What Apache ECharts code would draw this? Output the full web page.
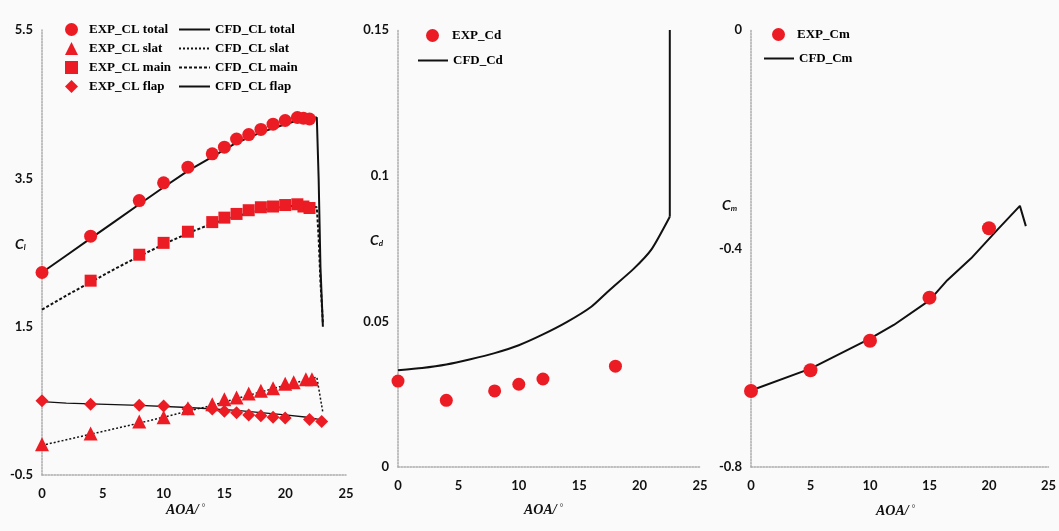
<!DOCTYPE html>
<html>
<head>
<meta charset="utf-8">
<script src="https://cdn.jsdelivr.net/npm/echarts@6/dist/echarts.min.js"></script>
<style>
  html, body { margin: 0; padding: 0; background: #fafafa; }
  #main { width: 1059px; height: 531px; }
</style>
</head>
<body>
<div id="main"></div>
<script>
// ---- CL panel: experiment ----
const aoaTotal = [0, 4, 8, 10, 12, 14, 15, 16, 17, 18, 19, 20, 21, 21.5, 22];
const expClTotal = [2.23, 2.72, 3.20, 3.44, 3.65, 3.83, 3.92, 4.03, 4.09, 4.16, 4.23, 4.28, 4.32, 4.31, 4.30];
const aoaSlat = [0, 4, 8, 10, 12, 14, 15, 16, 17, 18, 19, 20, 20.7, 21.7, 22.2];
const expClSlat = [-0.085, 0.06, 0.22, 0.28, 0.40, 0.455, 0.52, 0.545, 0.60, 0.635, 0.67, 0.73, 0.75, 0.79, 0.79];
const aoaMain = [4, 8, 10, 12, 14, 15, 16, 17, 18, 19, 20, 21, 21.5, 22];
const expClMain = [2.12, 2.47, 2.63, 2.78, 2.91, 2.97, 3.02, 3.07, 3.11, 3.12, 3.14, 3.15, 3.12, 3.10];
const aoaFlap = [0, 4, 8, 10, 12, 14, 15, 16, 17, 18, 19, 20, 22, 23];
const expClFlap = [0.50, 0.455, 0.44, 0.43, 0.39, 0.39, 0.36, 0.34, 0.31, 0.30, 0.28, 0.27, 0.25, 0.22];

// ---- CL panel: CFD ----
const cfdAoaTotal = [0, 2, 4, 6, 8, 10, 12, 14, 16, 18, 20, 21, 22, 22.6, 22.75, 22.9, 23.1];
const cfdClTotal = [2.23, 2.46, 2.69, 2.92, 3.15, 3.38, 3.60, 3.79, 3.98, 4.12, 4.23, 4.28, 4.31, 4.32, 3.5, 2.3, 1.5];
const cfdClMain = [1.73, 1.92, 2.10, 2.28, 2.45, 2.61, 2.76, 2.89, 2.99, 3.07, 3.12, 3.13, 3.13, 3.11, 2.7, 2.1, 1.55];
const cfdAoaSlat = [0, 4, 8, 12, 14, 16, 18, 20, 22, 22.6, 23.1];
const cfdClSlat = [-0.10, 0.05, 0.20, 0.36, 0.44, 0.53, 0.62, 0.71, 0.79, 0.82, 0.34];
const cfdAoaFlap = [0, 2, 4, 8, 12, 16, 18, 20, 22, 23.1];
const cfdClFlap = [0.49, 0.47, 0.46, 0.44, 0.41, 0.37, 0.34, 0.31, 0.275, 0.24];

// ---- Cd panel ----
const aoaCd = [0, 4, 8, 10, 12, 18];
const expCd = [0.0295, 0.0229, 0.0261, 0.0284, 0.0302, 0.0346];
const cfdAoaCd = [0, 2, 4, 6, 8, 10, 12, 14, 16, 17.5, 19.5, 21, 22.5];
const cfdCd = [0.0332, 0.0340, 0.0352, 0.0370, 0.0391, 0.0418, 0.0455, 0.0498, 0.0550, 0.0607, 0.0680, 0.0748, 0.0859];
const cfdAoaCdStall = [22.5, 22.5];
const cfdCdStall = [0.0859, 0.15];

// ---- Cm panel ----
const aoaCm = [0, 5, 10, 15, 20];
const expCm = [-0.661, -0.623, -0.569, -0.49, -0.363];
const cfdAoaCm = [0, 5, 10, 12, 15, 16.5, 18.5, 20.7, 22.6, 23.1];
const cfdCm = [-0.66, -0.62, -0.565, -0.54, -0.495, -0.458, -0.418, -0.366, -0.322, -0.359];

const xTicks = [0, 5, 10, 15, 20, 25];

const RED = '#ec1c24';
const BLACK = '#111';
const tickFont = { fontFamily: 'Lato', fontWeight: 'bold', fontSize: 13, color: '#111' };
const legendFont = { fontFamily: 'Liberation Serif', fontWeight: 'bold', fontSize: 13, color: '#000' };

const pairs = (xs, ys) => xs.map((x, i) => [x, ys[i]]);

function xAx(gi) {
    return {
        type: 'value', gridIndex: gi, min: xTicks[0], max: xTicks[xTicks.length - 1], interval: 5,
        axisLine: { show: true, onZero: false, lineStyle: { color: '#aaa', type: 'dotted', width: 1.5 } },
        axisTick: { show: false },
        splitLine: { show: false },
        axisLabel: Object.assign({ margin: 12 }, tickFont)
    };
}
function yAx(gi, extra) {
    return Object.assign({
        type: 'value', gridIndex: gi,
        axisLine: { show: true, onZero: false, lineStyle: { color: '#aaa', type: 'dotted', width: 1.5 } },
        axisTick: { show: false },
        splitLine: { show: false },
        axisLabel: Object.assign({ margin: 9 }, tickFont)
    }, extra);
}

function expSeries(name, gi, data, symbol, size) {
    return {
        name, type: 'scatter', xAxisIndex: gi, yAxisIndex: gi, data,
        symbol, symbolSize: size, itemStyle: { color: RED, opacity: 1 }, z: 3
    };
}
function cfdSeries(name, gi, data, type, width, smooth) {
    return {
        name, type: 'line', xAxisIndex: gi, yAxisIndex: gi, data,
        symbol: 'none', smooth: smooth || false,
        lineStyle: { color: BLACK, type, width }, itemStyle: { color: BLACK }, z: 2
    };
}

function label(text, sub, x, y) {
    return {
        type: 'text', left: x, top: y,
        style: {
            text: '{c|' + text + '}{s|' + sub + '}',
            rich: {
                c: { fontFamily: 'Lato', fontStyle: 'italic', fontWeight: 'bold', fontSize: 14, fill: '#111' },
                s: { fontFamily: 'Lato', fontStyle: 'italic', fontWeight: 'bold', fontSize: 8, fill: '#111', padding: [6, 0, 0, 0] }
            }
        }
    };
}
function aoaLabel(cx, y) {
    return {
        type: 'text', left: cx - 21, top: y,
        style: {
            text: '{a|AOA/}{d| °}',
            rich: {
                a: { fontFamily: 'Liberation Serif', fontStyle: 'italic', fontWeight: 'bold', fontSize: 14, fill: '#111' },
                d: { fontFamily: 'Liberation Sans', fontSize: 10, fill: '#555', padding: [0, 0, 4, 0] }
            }
        }
    };
}

// square icon slot so markers keep their shape; text pushed right by padding
const expLegend = { orient: 'vertical', itemWidth: 13, itemHeight: 13 };
// hide the symbol drawn in line-series legend icons, keep the line
const cfdLegend = { orient: 'vertical', itemHeight: 12, itemStyle: { opacity: 0 }, textStyle: legendFont };

const chart = echarts.init(document.getElementById('main'), null, { renderer: 'canvas' });

const option = {
    backgroundColor: '#fafafa',
    animation: false,
    grid: [
        { left: 42, top: 30, width: 304, height: 445 },
        { left: 398, top: 30, width: 302, height: 437 },
        { left: 751, top: 30, width: 301, height: 437 }
    ],
    xAxis: [xAx(0), xAx(1), xAx(2)],
    yAxis: [
        yAx(0, { min: -0.5, max: 5.5, axisLabel: Object.assign({ margin: 9, customValues: [-0.5, 1.5, 3.5, 5.5] }, tickFont) }),
        yAx(1, { min: 0, max: 0.15, interval: 0.05 }),
        yAx(2, { min: -0.8, max: 0, interval: 0.4 })
    ],
    legend: [
        Object.assign({}, expLegend, {
            left: 60, top: 18, itemGap: 6,
            textStyle: Object.assign({ padding: [0, 0, 0, 6] }, legendFont),
            data: ['EXP_CL total', 'EXP_CL slat', 'EXP_CL main', 'EXP_CL flap']
        }),
        Object.assign({}, cfdLegend, {
            left: 173, top: 18, itemWidth: 31, itemGap: 6,
            data: ['CFD_CL total', 'CFD_CL slat', 'CFD_CL main', 'CFD_CL flap']
        }),
        Object.assign({}, expLegend, {
            left: 421, top: 24,
            textStyle: Object.assign({ padding: [0, 0, 0, 8] }, legendFont), data: ['EXP_Cd']
        }),
        Object.assign({}, cfdLegend, { left: 412, top: 49, itemWidth: 30, data: ['CFD_Cd'] }),
        Object.assign({}, expLegend, {
            left: 767, top: 23,
            textStyle: Object.assign({ padding: [0, 0, 0, 7] }, legendFont), data: ['EXP_Cm']
        }),
        Object.assign({}, cfdLegend, { left: 758, top: 47, itemWidth: 30, data: ['CFD_Cm'] })
    ],
    graphic: [
        label('C', 'l', 15, 237),
        label('C', 'd', 370, 233),
        label('C', 'm', 722, 198),
        aoaLabel(187, 503),
        aoaLabel(545, 503),
        aoaLabel(897, 504)
    ],
    series: [
        cfdSeries('CFD_CL total', 0, pairs(cfdAoaTotal, cfdClTotal), 'solid', 2),
        cfdSeries('CFD_CL slat', 0, pairs(cfdAoaSlat, cfdClSlat), [2, 2], 1.5),
        cfdSeries('CFD_CL main', 0, pairs(cfdAoaTotal, cfdClMain), [3, 2], 2),
        cfdSeries('CFD_CL flap', 0, pairs(cfdAoaFlap, cfdClFlap), 'solid', 1.3),
        expSeries('EXP_CL total', 0, pairs(aoaTotal, expClTotal), 'circle', 13),
        expSeries('EXP_CL slat', 0, pairs(aoaSlat, expClSlat), 'triangle', 14),
        expSeries('EXP_CL main', 0, pairs(aoaMain, expClMain), 'rect', 12),
        expSeries('EXP_CL flap', 0, pairs(aoaFlap, expClFlap), 'diamond', 13),

        cfdSeries('CFD_Cd', 1, pairs(cfdAoaCd, cfdCd), 'solid', 2, 0.2),
        cfdSeries('CFD_Cd', 1, pairs(cfdAoaCdStall, cfdCdStall), 'solid', 2),
        expSeries('EXP_Cd', 1, pairs(aoaCd, expCd), 'circle', 13),

        cfdSeries('CFD_Cm', 2, pairs(cfdAoaCm, cfdCm), 'solid', 2),
        expSeries('EXP_Cm', 2, pairs(aoaCm, expCm), 'circle', 14)
    ]
};

chart.setOption(option);
</script>
</body>
</html>
